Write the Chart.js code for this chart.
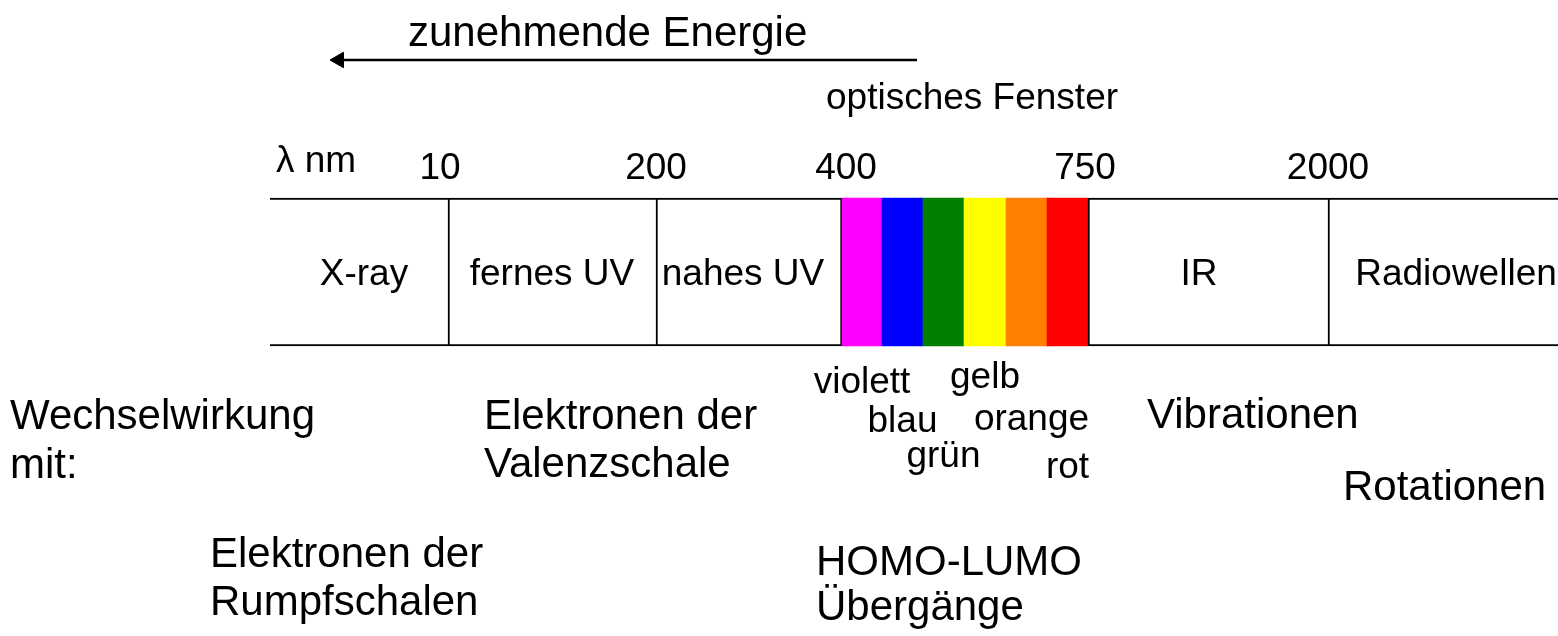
<!DOCTYPE html>
<html>
<head>
<meta charset="utf-8">
<script src="https://cdn.jsdelivr.net/npm/chart.js@4.4.1/dist/chart.umd.min.js"></script>
<style>
html, body { margin: 0; padding: 0; background: #fff; }
canvas { display: block; }
</style>
</head>
<body>
<canvas id="spectrumChart" width="1558" height="636"></canvas>
<script>
// spectrum bands, left to right (schematic diagram units, not to scale)
const bandNames = ['X-ray', 'fernes UV', 'nahes UV', 'violett', 'blau', 'grün', 'gelb', 'orange', 'rot', 'IR', 'Radiowellen'];
const bandEdges = [270, 448, 656, 842, 882, 923, 964, 1006, 1047, 1088, 1328, 1560];
const bandColors = ['#ffffff', '#ffffff', '#ffffff', '#ff00ff', '#0000ff', '#008000', '#ffff00', '#ff8000', '#ff0000', '#ffffff', '#ffffff'];
const wavelengthTicks = ['10', '200', '400', '750', '2000'];
const wavelengthTickEdges = [1, 2, 3, 9, 10];
const energyArrow = [{ x: 917, y: 60 }, { x: 339, y: 60 }];

const fontFamily = '"Liberation Sans", Arial, sans-serif';
const rowY = 272;

// where the texts go
const layout = {
  bandShift: [5, 0, -6, 0, 0, 0, 0, 5, 0, -9, 12],
  colourBaseline: [0, 0, 0, 393, 432, 467, 388, 430, 478],
  tickShift: [-8, 0, 4, -3, 0],
  tickBaseline: 179,
  notes: [
    { text: 'zunehmende Energie', x: 408, y: 46, size: 42 },
    { text: 'optisches Fenster', x: 826, y: 109, size: 37 },
    { text: 'λ nm', x: 276, y: 172, size: 37 },
    { text: 'Wechselwirkung', x: 10, y: 429, size: 42 },
    { text: 'mit:', x: 10, y: 478, size: 42 },
    { text: 'Elektronen der', x: 484, y: 429, size: 42 },
    { text: 'Valenzschale', x: 484, y: 477, size: 42 },
    { text: 'Elektronen der', x: 210, y: 567, size: 42 },
    { text: 'Rumpfschalen', x: 210, y: 615, size: 42 },
    { text: 'HOMO-LUMO', x: 816, y: 575, size: 42 },
    { text: 'Übergänge', x: 816, y: 620, size: 42 },
    { text: 'Vibrationen', x: 1147, y: 428, size: 42 },
    { text: 'Rotationen', x: 1343, y: 500, size: 42 }
  ]
};

const isBox = c => c === '#ffffff';
const boxBorders = bandNames.map((n, i) => {
  if (!isBox(bandColors[i])) return 0;
  return {
    top: 2,
    bottom: 2,
    left: i === 0 ? 0 : 2,
    right: i + 1 < bandColors.length && !isBox(bandColors[i + 1]) ? 2 : 0
  };
});

const spectrumText = {
  id: 'spectrumText',
  afterDatasetsDraw(chart) {
    const { ctx, scales: { x, y } } = chart;
    const put = (text, vx, vy, size, align) => {
      ctx.font = size + 'px ' + fontFamily;
      ctx.textAlign = align || 'left';
      ctx.textBaseline = 'alphabetic';
      ctx.fillText(text, x.getPixelForValue(vx), y.getPixelForValue(vy));
    };
    ctx.save();
    ctx.fillStyle = '#000';
    bandNames.forEach((name, i) => {
      const mid = (bandEdges[i] + bandEdges[i + 1]) / 2 + layout.bandShift[i];
      if (isBox(bandColors[i])) put(name, mid, rowY + 13, 37, 'center');
      else put(name, mid, layout.colourBaseline[i], 37, 'center');
    });
    wavelengthTicks.forEach((t, i) => {
      put(t, bandEdges[wavelengthTickEdges[i]] + layout.tickShift[i], layout.tickBaseline, 37, 'center');
    });
    layout.notes.forEach(n => put(n.text, n.x, n.y, n.size));
    ctx.restore();
  }
};

new Chart(document.getElementById('spectrumChart'), {
  type: 'bar',
  data: {
    datasets: [
      {
        type: 'bar',
        indexAxis: 'y',
        data: bandNames.map((n, i) => ({ x: [bandEdges[i], bandEdges[i + 1]], y: rowY })),
        backgroundColor: bandColors,
        borderColor: '#000',
        borderWidth: ctx => boxBorders[ctx.dataIndex],
        borderSkipped: false,
        barThickness: 148
      },
      {
        type: 'line',
        data: energyArrow,
        borderColor: '#000',
        borderWidth: 2.5,
        pointRadius: [0, 9],
        pointStyle: 'triangle',
        rotation: -90,
        pointBackgroundColor: '#000',
        pointBorderColor: '#000',
        pointBorderWidth: 1
      }
    ]
  },
  options: {
    responsive: false,
    animation: false,
    events: [],
    layout: { padding: 0, autoPadding: false },
    plugins: { legend: { display: false }, tooltip: { enabled: false } },
    scales: {
      x: { type: 'linear', min: 0, max: 1558, offset: false, display: false },
      y: { type: 'linear', min: 0, max: 636, reverse: true, offset: false, display: false }
    }
  },
  plugins: [spectrumText]
});
</script>
</body>
</html>
